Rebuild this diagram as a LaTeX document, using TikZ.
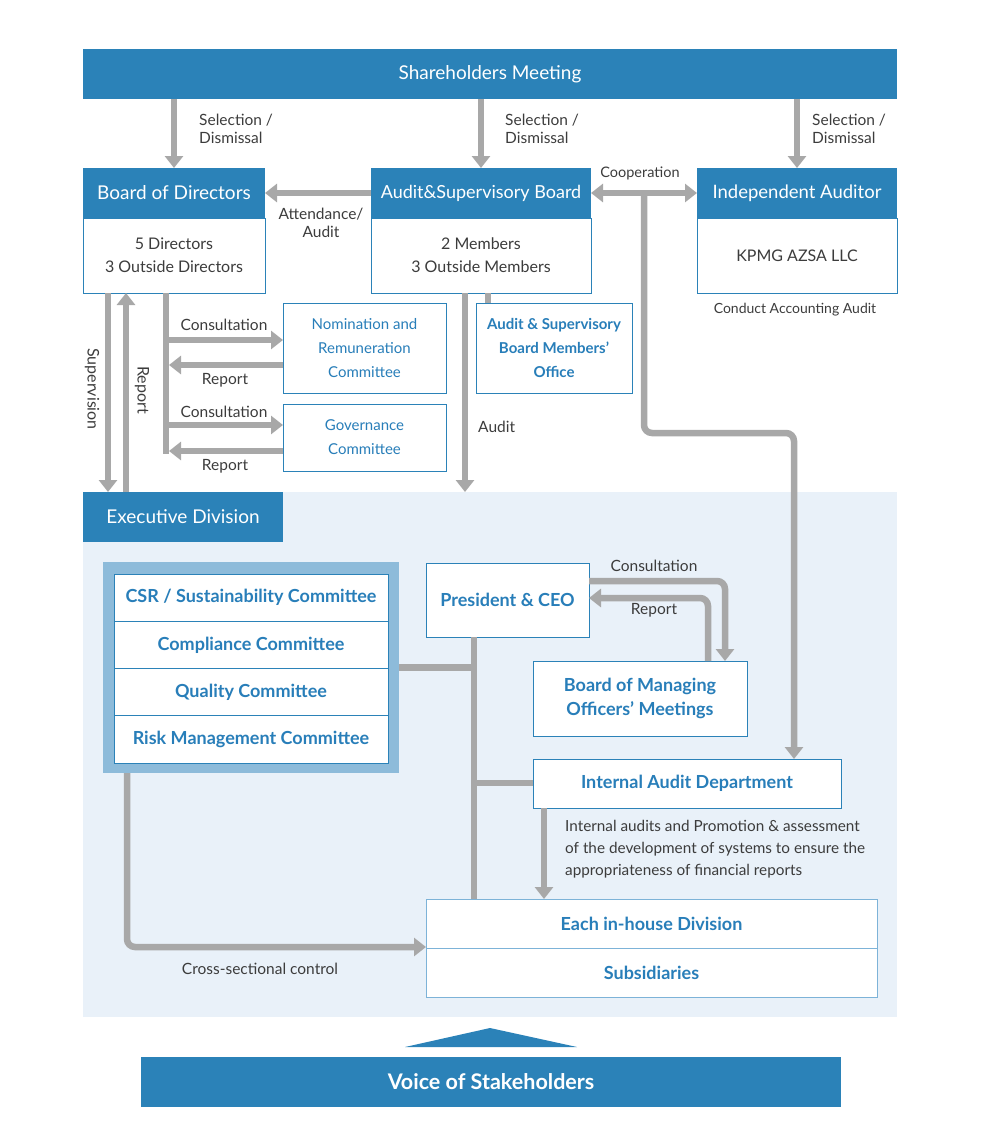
\documentclass[tikz,border=0pt]{standalone}
\usepackage{fontspec}
\setmainfont{Lato}
\usetikzlibrary{arrows.meta}

\definecolor{corpblue}{RGB}{43,130,184}
\definecolor{textblue}{RGB}{40,126,185}
\definecolor{linegray}{RGB}{168,168,168}
\definecolor{bgblue}{RGB}{233,241,249}
\definecolor{groupblue}{RGB}{141,187,218}
\definecolor{lightedge}{RGB}{125,179,216}
\definecolor{labelgray}{RGB}{60,60,60}

\begin{document}
\begin{tikzpicture}[x=1pt,y=-1pt,
  hdr/.style={fill=corpblue, text=white, font=\fontsize{19}{22}\selectfont, inner sep=0pt, outer sep=0pt, anchor=north west},
  membox/.style={draw=corpblue, fill=white, line width=1pt, text=labelgray, font=\fontsize{16}{23}\selectfont, align=center, inner sep=0pt, outer sep=0pt, anchor=north west},
  combox/.style={draw=corpblue, fill=white, line width=1pt, text=textblue, font=\fontsize{15}{24}\selectfont, align=center, inner sep=0pt, outer sep=0pt, anchor=north west},
  execbox/.style={combox, font=\bfseries\fontsize{18}{24}\selectfont},
  lbl/.style={text=labelgray, font=\fontsize{15.5}{18}\selectfont, inner sep=0pt, align=left},
  line/.style={draw=linegray, line width=6.5pt},
  arr/.style={line, -{Triangle[width=18pt,length=12pt]}}]

\useasboundingbox (0,0) rectangle (980,1137);
\fill[bgblue] (83,492) rectangle (897,1017);

\node[hdr, minimum width=814pt, minimum height=50pt] (share) at (83,49) {Shareholders Meeting};

\node[hdr, minimum width=182pt, minimum height=50pt] (bod) at (83,168) {Board of Directors};
\node[membox, minimum width=182pt, minimum height=75pt] (bodmem) at (83,218) {5 Directors\\3 Outside Directors};

\node[hdr, font=\fontsize{18}{22}\selectfont, minimum width=220pt, minimum height=50pt] (asb) at (371,168) {Audit\&Supervisory Board};
\node[membox, minimum width=220pt, minimum height=75pt] (asbmem) at (371,218) {2 Members\\3 Outside Members};

\node[hdr, font=\fontsize{18.5}{22}\selectfont, minimum width=200pt, minimum height=50pt] (ia) at (697,168) {Independent Auditor};
\node[membox, minimum width=200pt, minimum height=75pt] (iamem) at (697,218) {KPMG AZSA LLC};
\node[lbl, font=\fontsize{14}{18}\selectfont] (iatext) at (795,310) {Conduct Accounting Audit};

\node[combox, minimum width=163pt, minimum height=90pt] (nom) at (283,303) {Nomination and\\Remuneration\\Committee};
\node[combox, minimum width=163pt, minimum height=67pt] (gov) at (283,404) {Governance\\Committee};
\node[combox, font=\bfseries\fontsize{15}{24}\selectfont, minimum width=156pt, minimum height=90pt] (office) at (476,303) {Audit \& Supervisory\\Board Members’\\Office};

\node[hdr, minimum width=200pt, minimum height=50pt] (exec) at (83,492) {Executive Division};

\node[fill=groupblue, minimum width=296pt, minimum height=211pt, inner sep=0pt, outer sep=0pt, anchor=north west] (grp) at (103,562) {};
\node[execbox, minimum width=274pt, minimum height=47.25pt] (csr) at (114,574) {CSR / Sustainability Committee};
\node[execbox, minimum width=274pt, minimum height=47.25pt] (compl) at (114,621.25) {Compliance Committee};
\node[execbox, minimum width=274pt, minimum height=47.25pt] (qual) at (114,668.5) {Quality Committee};
\node[execbox, minimum width=274pt, minimum height=47.25pt] (risk) at (114,715.75) {Risk Management Committee};

\node[execbox, minimum width=163pt, minimum height=74pt] (pres) at (426,563) {President \& CEO};
\node[execbox, minimum width=214pt, minimum height=75pt] (bmom) at (533,661) {Board of Managing\\Officers’ Meetings};
\node[execbox, minimum width=308pt, minimum height=49pt] (iad) at (533,759) {Internal Audit Department};

\node[execbox, draw=lightedge, minimum width=451pt, minimum height=49pt] (each) at (426,899) {Each in-house Division};
\node[execbox, draw=lightedge, minimum width=451pt, minimum height=49pt] (subs) at (426,948) {Subsidiaries};

\fill[corpblue] (405,1047) -- (490,1028) -- (577,1047) -- cycle;
\node[hdr, font=\bfseries\fontsize{21.5}{24}\selectfont, minimum width=700pt, minimum height=50pt] (voice) at (141,1057) {Voice of Stakeholders};

% shareholders meeting
\draw[arr] (share.south -| bod.north) -- (bod.north);
\draw[arr] (share.south -| asb.north) -- (asb.north);
\draw[arr] (share.south -| ia.north) -- (ia.north);
\node[lbl, anchor=west] (sel1) at (199,129) {Selection /\\Dismissal};
\node[lbl, anchor=west] (sel2) at (505,129) {Selection /\\Dismissal};
\node[lbl, anchor=west] (sel3) at (812,129) {Selection /\\Dismissal};

\draw[arr] (asb.west) -- (bod.east);
\node[lbl, align=center] (att) at (321,223) {Attendance/\\Audit};
\draw[arr, {Triangle[width=18pt,length=12pt]}-{Triangle[width=18pt,length=12pt]}] (asb.east) -- (ia.west);
\node[lbl, font=\fontsize{14.5}{18}\selectfont] (coop) at (640,173) {Cooperation};
\coordinate (coopdown) at (644,193);
\coordinate (iadin) at (794,433);
\draw[arr, rounded corners=8pt] (coopdown) -- (coopdown |- iadin) -- (iadin) -- (iadin |- iad.north);

% board of directors
\coordinate (sup) at (108,389);
\coordinate (rep) at (126,390);
\draw[arr] (bodmem.south -| sup) -- (exec.north -| sup);
\draw[arr] (exec.north -| rep) -- (bodmem.south -| rep);
\node[lbl, rotate=-90, font=\fontsize{16}{18}\selectfont] (suptext) at (92,389) {Supervision};
\node[lbl, rotate=-90, font=\fontsize{16}{18}\selectfont] (reptext) at (142,390) {Report};

\coordinate (trunk) at (166,454);
\draw[line] (bodmem.south -| trunk) -- (trunk);
\coordinate (nc) at (166,340);
\coordinate (nr) at (169,365);
\coordinate (gc) at (166,425);
\coordinate (gr) at (169,451);
\draw[arr] (nc) -- (nc -| nom.west);
\draw[arr] (nr -| nom.west) -- (nr);
\draw[arr] (gc) -- (gc -| gov.west);
\draw[arr] (gr -| gov.west) -- (gr);
\node[lbl] (nctext) at (224,325) {Consultation};
\node[lbl] (nrtext) at (225,380) {Report};
\node[lbl] (gctext) at (224,412) {Consultation};
\node[lbl] (grtext) at (225,466) {Report};

% audit & supervisory board
\coordinate (aud) at (465,0);
\coordinate (off) at (488,0);
\draw[arr] (asbmem.south -| aud) -- (aud |- exec.north);
\draw[line] (asbmem.south -| off) -- (off |- office.north);
\node[lbl, anchor=west] (audtext) at (478,427) {Audit};

% executive division
\coordinate (pc) at (725,581);
\coordinate (pr) at (708,598);
\draw[arr, rounded corners=8pt] (pres.east |- pc) -- (pc) -- (pc |- bmom.north);
\draw[arr, rounded corners=8pt] (pr |- bmom.north) -- (pr) -- (pr -| pres.east);
\node[lbl] (pctext) at (654,566) {Consultation};
\node[lbl] (prtext) at (654,610) {Report};

\coordinate (tree) at (474,783);
\draw[line] (pres.south -| tree) -- (tree |- each.north);
\draw[line] (grp.east) -- (grp.east -| tree);
\draw[line] (tree) -- (tree -| iad.west);

\coordinate (iaout) at (544,0);
\draw[arr] (iad.south -| iaout) -- (iaout |- each.north);
\node[lbl, anchor=west, font=\fontsize{15.3}{22}\selectfont] (iadtext) at (565,849) {Internal audits and Promotion \& assessment\\of the development of systems to ensure the\\appropriateness of financial reports};

\coordinate (cross) at (127,947);
\draw[arr, rounded corners=8pt] (grp.south -| cross) -- (cross) -- (cross -| each.west);
\node[lbl] (crosstext) at (260,969) {Cross-sectional control};
\end{tikzpicture}
\end{document}
